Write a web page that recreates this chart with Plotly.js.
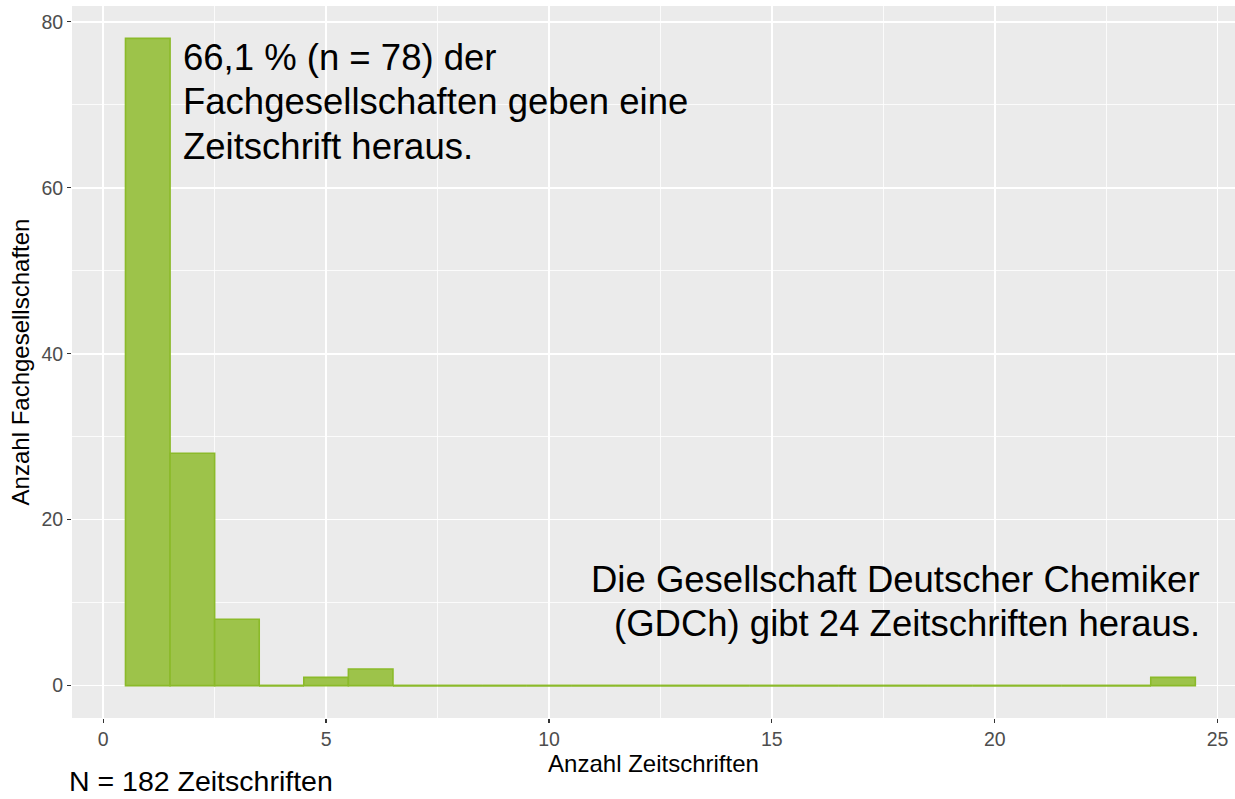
<!DOCTYPE html>
<html>
<head>
<meta charset="utf-8">
<script src="https://cdn.plot.ly/plotly-3.0.1.min.js"></script>
<style>html,body{margin:0;padding:0;background:#fff;}#chart{width:1235px;height:799px;}</style>
</head>
<body>
<div id="chart"></div>
<script>
// Anzahl Zeitschriften je Fachgesellschaft (bins) und Anzahl Fachgesellschaften
const journalsPerSociety = [1,2,3,4,5,6,7,8,9,10,11,12,13,14,15,16,17,18,19,20,21,22,23,24];
const societyCounts      = [78,28,8,0,1,2,0,0,0,0,0,0,0,0,0,0,0,0,0,0,0,0,0,1];
const xTickVals = [0,5,10,15,20,25];
const yTickVals = [0,20,40,60,80];
const noteTopLines = ["66,1 % (n = 78) der", "Fachgesellschaften geben eine", "Zeitschrift heraus."];
const noteRightLines = ["Die Gesellschaft Deutscher Chemiker", "(GDCh) gibt 24 Zeitschriften heraus."];

const FONT = "Liberation Sans, Arial, Helvetica, sans-serif";
const FILL = "#9DC34A";
const EDGE = "#8BBA2A";

// empty bins drawn as outline on the baseline (as ggplot does)
const zx = [], zy = [];
journalsPerSociety.forEach((v, i) => {
  if (societyCounts[i] === 0) { zx.push(v - 0.5, v + 0.5, null); zy.push(0, 0, null); }
});

const traces = [
  {
    type: "bar",
    x: journalsPerSociety,
    y: societyCounts,
    width: 1,
    marker: { color: FILL, line: { color: EDGE, width: 1.6 } },
    hoverinfo: "skip"
  },
  {
    type: "scatter",
    mode: "lines",
    x: zx, y: zy,
    line: { color: EDGE, width: 1.6 },
    hoverinfo: "skip",
    connectgaps: false
  }
];

// line centres (data units) for annotation text, tighter line spacing than Plotly's default
const topLineY = [75.64, 70.34, 64.92];
const rightLineY = [12.85, 7.49];

const annotations = [];
noteTopLines.forEach((t, i) => annotations.push({
  xref: "x", yref: "y", x: 1.75, y: topLineY[i],
  xanchor: "left", yanchor: "middle", align: "left", showarrow: false,
  text: t, font: { family: FONT, size: 36.5, color: "#000" }
}));
noteRightLines.forEach((t, i) => annotations.push({
  xref: "x", yref: "y", x: 24.64, y: rightLineY[i],
  xanchor: "right", yanchor: "middle", align: "right", showarrow: false,
  text: t, font: { family: FONT, size: 36.5, color: "#000" }
}));
annotations.push({
  xref: "paper", yref: "paper", x: -0.004, y: -0.0885,
  xanchor: "left", yanchor: "middle", align: "left", showarrow: false,
  text: "N = 182 Zeitschriften",
  font: { family: FONT, size: 28.5, color: "#000" }
});

const layout = {
  width: 1235, height: 799,
  margin: { l: 72, r: 0, t: 6, b: 81 },
  paper_bgcolor: "#ffffff",
  plot_bgcolor: "#EBEBEB",
  showlegend: false,
  bargap: 0,
  font: { family: FONT, color: "#000" },
  xaxis: {
    range: [-0.7, 25.39],
    tickvals: xTickVals,
    ticktext: xTickVals.map(String),
    ticks: "outside", ticklen: 4, tickwidth: 1.3, tickcolor: "#333333",
    tickfont: { family: FONT, size: 19.5, color: "#4D4D4D" },
    showgrid: true, gridcolor: "#ffffff", gridwidth: 1.6,
    minor: { dtick: 2.5, tick0: 0, showgrid: true, gridcolor: "#ffffff", gridwidth: 0.8, ticks: "" },
    zeroline: false, showline: false,
    title: { text: "Anzahl Zeitschriften", font: { family: FONT, size: 24, color: "#000" }, standoff: 0 }
  },
  yaxis: {
    range: [-3.9, 81.9],
    tickvals: yTickVals,
    ticktext: yTickVals.map(String),
    ticks: "outside", ticklen: 4, tickwidth: 1.3, tickcolor: "#333333",
    tickfont: { family: FONT, size: 19.5, color: "#4D4D4D" },
    showgrid: true, gridcolor: "#ffffff", gridwidth: 1.6,
    minor: { dtick: 10, tick0: 0, showgrid: true, gridcolor: "#ffffff", gridwidth: 0.8, ticks: "" },
    zeroline: false, showline: false,
    title: { text: "Anzahl Fachgesellschaften", font: { family: FONT, size: 24, color: "#000" }, standoff: 4 }
  },
  annotations: annotations
};

Plotly.newPlot("chart", traces, layout, { staticPlot: true, displayModeBar: false });
</script>
</body>
</html>
